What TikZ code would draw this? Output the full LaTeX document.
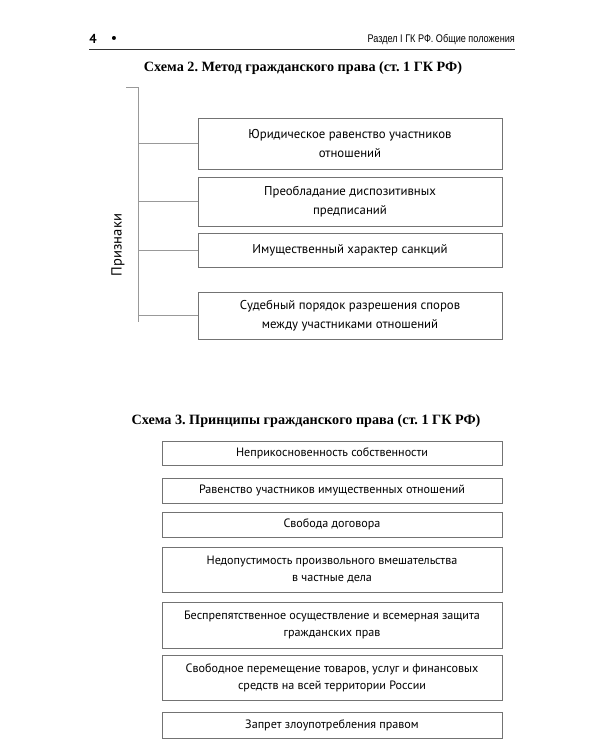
\documentclass[tikz,border=0pt]{standalone}
\usepackage{fontspec}
\setmainfont{Liberation Serif}
\newfontfamily\boxfont{PT Sans}
\newfontfamily\headfont[FakeStretch=0.82]{Liberation Sans}
\frenchspacing
\begin{document}
\begin{tikzpicture}[x=1pt,y=-1pt,
  frame/.style={draw=black!55, line width=0.8pt, fill=white, inner sep=2pt, align=center,
    font=\boxfont\fontsize{12.8}{19.5}\selectfont, text=black},
  frameb/.style={frame, font=\boxfont\fontsize{12.1}{17}\selectfont},
  link/.style={draw=black!40, line width=0.6pt},
  ttl/.style={font=\bfseries\fontsize{14.2}{16}\selectfont, inner sep=0pt}]
\useasboundingbox (0,0) rectangle (600,750);
% header
\node[inner sep=0pt, font=\boxfont\bfseries\fontsize{13}{14}\selectfont] (pg) at (93,39) {4};
\node[inner sep=0pt, font=\boxfont\bfseries\fontsize{13}{14}\selectfont] (bul) at (114,39) {•};
\node[inner sep=0pt, anchor=east, font=\headfont\fontsize{11.1}{12}\selectfont] (run) at (515,40) {Раздел I ГК РФ. Общие положения};
\coordinate (rl) at (89,49);
\coordinate (rr) at (515,49);
\draw[line width=0.9pt, black!80] (rl) -- (rr);
% Schema 2
\node[ttl] (t2) at (303,68) {Схема 2. Метод гражданского права (ст. 1 ГК РФ)};
\node[frame, minimum width=304, minimum height=51] (a1) at (350,143.5) {Юридическое равенство участников\\отношений};
\node[frame, minimum width=304, minimum height=49] (a2) at (350,201.5) {Преобладание диспозитивных\\предписаний};
\node[frame, minimum width=304, minimum height=34] (a3) at (350,250) {Имущественный характер санкций};
\node[frame, minimum width=304, minimum height=47] (a4) at (350,315.5) {Судебный порядок разрешения споров\\между участниками отношений};
\coordinate (sptop) at (138,87);
\coordinate (spbot) at (138,322);
\coordinate (stub) at (126,87);
\draw[link] (stub) -- (sptop) -- (spbot);
\draw[link] (a1.west -| sptop) -- (a1.west);
\draw[link] (a2.west -| sptop) -- (a2.west);
\draw[link] (a3.west -| sptop) -- (a3.west);
\draw[link] (a4.west -| sptop) -- (a4.west);
\node[rotate=90, inner sep=0pt, font=\boxfont\fontsize{14.6}{15}\selectfont, text=black] (pr) at (118,245) {Признаки};
% Schema 3
\node[ttl] (t3) at (306,421) {Схема 3. Принципы гражданского права (ст. 1 ГК РФ)};
\node[frameb, minimum width=340, minimum height=24] (b1) at (332,453) {Неприкосновенность собственности};
\node[frameb, minimum width=340, minimum height=25] (b2) at (332,490.5) {Равенство участников имущественных отношений};
\node[frameb, minimum width=340, minimum height=25] (b3) at (332,524.5) {Свобода договора};
\node[frameb, minimum width=340, minimum height=45] (b4) at (332,569.5) {Недопустимость произвольного вмешательства\\в частные дела};
\node[frameb, minimum width=340, minimum height=46] (b5) at (332,625) {Беспрепятственное осуществление и всемерная защита\\гражданских прав};
\node[frameb, minimum width=340, minimum height=45] (b6) at (332,677.5) {Свободное перемещение товаров, услуг и финансовых\\средств на всей территории России};
\node[frameb, minimum width=340, minimum height=26] (b7) at (332,725) {Запрет злоупотребления правом};
\end{tikzpicture}
\end{document}
